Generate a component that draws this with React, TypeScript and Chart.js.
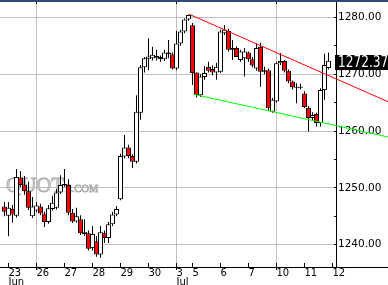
import React, { useEffect, useRef } from 'react';
import { Chart, registerables } from 'chart.js';

Chart.register(...registerables);

// ---- time axis (hourly bars, one slot per bar) ----
const sessionStartSlots = [1, 2, 9, 16, 23, 30, 37, 44, 48, 55, 62, 69, 76];
const sessionBarCounts = [1, 7, 7, 7, 7, 7, 7, 4, 7, 7, 7, 7, 7];
const dayTickSlots = [2, 9, 16, 23, 30, 37, 44, 48, 55, 62, 69, 76, 83];
const dayTickLabels = ['23', '26', '27', '28', '29', '30', '3', '5', '6', '7', '10', '11', '12'];
const monthTickLabels = ['Jun', '', '', '', '', '', 'Jul', '', '', '', '', '', ''];
const weekStartSlots = [9, 44, 69];

// ---- price axis ----
const yTickValues = [1240, 1245, 1250, 1255, 1260, 1265, 1270, 1275, 1280];
const yLabelValues = [1240, 1250, 1260, 1270, 1280];
const yMin = 1236.08;
const yMax = 1282.69;
const xMin = -0.125;
const xMax = 83.875;

// ---- OHLC series ----
const opens = [
  1246.7,
  1245.1, 1246.3, 1245.1, 1251.8, 1250.6, 1249.4, 1245.0,
  1246.0, 1246.7, 1245.5, 1244.0, 1246.3, 1246.5, 1249.2,
  1250.4, 1250.5, 1245.6, 1244.1, 1244.5, 1241.9, 1242.0,
  1239.4, 1240.6, 1238.3, 1242.0, 1241.2, 1243.6, 1245.3,
  1248.0, 1255.5, 1257.1, 1255.6, 1254.6, 1263.2, 1271.2,
  1272.6, 1272.8, 1272.8, 1273.0, 1272.6, 1273.5, 1273.5,
  1271.0, 1275.4, 1277.5, 1279.6,
  1278.6, 1270.3, 1266.3, 1269.5, 1271.3, 1270.9, 1270.3,
  1270.4, 1277.2, 1277.6, 1274.3, 1274.6, 1272.5, 1272.8,
  1273.8, 1272.6, 1271.0, 1274.8, 1270.4, 1270.7, 1263.4,
  1265.2, 1271.9, 1272.3, 1270.6, 1268.7, 1267.7, 1267.6,
  1266.6, 1264.1, 1262.3, 1263.0, 1261.4, 1267.2, 1271.1,
];
const highs = [
  1247.5,
  1247.5, 1247.0, 1253.3, 1252.9, 1252.1, 1251.1, 1248.4,
  1247.5, 1247.2, 1245.8, 1247.0, 1248.6, 1249.8, 1252.2,
  1253.3, 1251.5, 1246.3, 1246.5, 1245.2, 1244.5, 1242.5,
  1243.3, 1241.5, 1243.3, 1242.5, 1244.0, 1245.8, 1246.8,
  1256.0, 1259.3, 1257.6, 1255.9, 1266.3, 1271.6, 1273.0,
  1276.3, 1274.8, 1274.3, 1273.3, 1274.3, 1276.0, 1273.8,
  1277.6, 1277.8, 1279.8, 1280.5,
  1279.0, 1270.3, 1270.0, 1271.4, 1272.2, 1271.5, 1272.0,
  1277.8, 1278.6, 1278.0, 1276.0, 1274.9, 1274.3, 1274.6,
  1274.0, 1273.0, 1275.4, 1275.5, 1271.3, 1271.0, 1265.8,
  1272.2, 1273.7, 1272.5, 1270.8, 1268.9, 1268.4, 1268.3,
  1267.0, 1264.4, 1263.3, 1263.2, 1267.5, 1273.6, 1273.8,
];
const lows = [
  1245.0,
  1241.5, 1243.9, 1244.8, 1250.2, 1248.8, 1246.1, 1244.7,
  1245.7, 1245.2, 1243.1, 1243.7, 1246.0, 1246.2, 1248.9,
  1250.2, 1245.2, 1243.8, 1243.9, 1241.7, 1241.5, 1239.0,
  1239.0, 1237.9, 1237.7, 1240.3, 1240.3, 1243.3, 1245.0,
  1247.8, 1255.2, 1255.2, 1253.5, 1254.3, 1262.0, 1270.3,
  1270.7, 1272.4, 1272.4, 1272.2, 1272.3, 1272.8, 1270.8,
  1270.7, 1275.0, 1277.2, 1279.4,
  1268.1, 1265.9, 1266.0, 1269.0, 1270.3, 1269.8, 1269.0,
  1270.2, 1276.9, 1274.0, 1272.5, 1273.0, 1272.2, 1269.6,
  1272.2, 1271.2, 1270.6, 1267.8, 1270.0, 1263.6, 1263.2,
  1265.0, 1271.6, 1270.3, 1268.4, 1267.3, 1264.9, 1267.3,
  1264.0, 1259.9, 1261.9, 1260.8, 1260.8, 1265.5, 1270.8,
];
const closes = [
  1245.8,
  1246.5, 1245.3, 1251.9, 1250.5, 1249.4, 1246.5, 1246.7,
  1246.9, 1245.5, 1244.0, 1246.4, 1247.4, 1249.2, 1250.5,
  1250.7, 1245.6, 1244.1, 1245.0, 1242.0, 1242.3, 1239.3,
  1241.9, 1238.3, 1242.2, 1241.2, 1243.6, 1245.3, 1246.3,
  1255.6, 1257.1, 1255.6, 1254.6, 1263.4, 1271.2, 1272.8,
  1273.1, 1273.4, 1273.2, 1272.6, 1273.8, 1273.8, 1271.0,
  1275.4, 1277.5, 1279.6, 1280.4,
  1270.2, 1266.3, 1269.6, 1270.2, 1270.6, 1270.3, 1271.3,
  1277.5, 1277.8, 1274.3, 1274.6, 1273.0, 1274.0, 1274.0,
  1272.6, 1271.5, 1274.6, 1270.4, 1270.7, 1264.0, 1265.5,
  1271.9, 1272.3, 1270.6, 1268.7, 1267.7, 1267.6, 1267.7,
  1264.2, 1262.3, 1262.8, 1261.4, 1267.2, 1271.6, 1272.37,
];

// ---- trend lines (slot, price) ----
const resistanceSlots = [47.2, 96.875];
const resistancePrices = [1280.53, 1265.15];
const supportSlots = [48.2, 96.875];
const supportPrices = [1266.46, 1258.94];

const barSlots: number[] = [];
sessionStartSlots.forEach((start, i) => {
  for (let k = 0; k < sessionBarCounts[i]; k++) barSlots.push(start + k);
});

const extrasPlugin = {
  id: 'extras',
  beforeDatasetsDraw(chart: any) {
    const ctx = chart.ctx;
    ctx.save();
    ctx.textBaseline = 'alphabetic';
    ctx.font = '21px "Liberation Serif"';
    ctx.fillStyle = '#d2d2d2';
    ctx.strokeStyle = '#ababab';
    ctx.lineWidth = 0.8;
    ctx.fillText('QUOT', 6, 192);
    ctx.strokeText('QUOT', 6, 192);
    const w = ctx.measureText('QUOT').width;
    ctx.font = '10.5px "Liberation Serif"';
    ctx.fillText('E.COM', 6 + w + 1, 192);
    ctx.strokeText('E.COM', 6 + w + 1, 192);
    ctx.restore();
  },
  afterDraw(chart: any) {
    const ctx = chart.ctx;
    const xs = chart.scales.x;
    const ys = chart.scales.y;
    const area = chart.chartArea;
    ctx.save();
    // top border
    ctx.fillStyle = '#2e4a78';
    ctx.fillRect(0, 0, chart.width, 2);
    ctx.fillStyle = '#000';
    // bottom axis line extended under the price axis
    ctx.fillRect(Math.round(area.right), Math.round(area.bottom), chart.width - Math.round(area.right), 1);
    // x tick marks
    dayTickSlots.forEach((s) => {
      const px = Math.round(xs.getPixelForValue(s) - 0.5);
      const isWeek = weekStartSlots.includes(s);
      ctx.fillRect(px, Math.round(area.bottom) - 4, 1, isWeek ? 7 : 4);
      if (isWeek) ctx.fillRect(px, 2, 1, 2);
    });
    // y tick marks
    yTickValues.forEach((v) => {
      const py = Math.round(ys.getPixelForValue(v) - 0.5);
      ctx.fillRect(Math.round(area.right) - 2, py, 2, 1);
    });
    // last price box
    const last = closes[closes.length - 1];
    const py = ys.getPixelForValue(last);
    const cy = py + 1.8;
    ctx.fillStyle = '#000';
    ctx.fillRect(Math.round(area.right) - 1, Math.round(cy - 7.5), chart.width, 15);
    ctx.translate(Math.round(area.right) + 2, cy);
    ctx.scale(0.76, 1);
    ctx.fillStyle = '#fff';
    ctx.font = '16px "DejaVu Sans"';
    ctx.textBaseline = 'middle';
    ctx.textAlign = 'left';
    ctx.fillText(last.toFixed(2), 0, 0);
    ctx.restore();
  },
};

export default function App() {
  const canvasRef = useRef<HTMLCanvasElement | null>(null);

  useEffect(() => {
    document.body.style.margin = '0';
    const canvas = canvasRef.current;
    if (!canvas) return;

    const bodies = barSlots.map((s, i) => ({
      x: s,
      y: [Math.min(opens[i], closes[i]), Math.max(opens[i], closes[i])],
    }));
    const bodyColors = barSlots.map((_, i) => (closes[i] >= opens[i] ? '#ffffff' : '#ff0000'));
    const wicks = barSlots.map((s, i) => ({ x: s, y: [lows[i], highs[i]] }));
    const resistance = resistanceSlots.map((s, i) => ({ x: s, y: resistancePrices[i] }));
    const support = supportSlots.map((s, i) => ({ x: s, y: supportPrices[i] }));

    const chart = new Chart(canvas, {
      type: 'bar',
      data: {
        datasets: [
          {
            type: 'line',
            label: 'Resistance',
            data: resistance,
            borderColor: '#ff0000',
            borderWidth: 1,
            pointRadius: 0,
            tension: 0,
            clip: false,
            order: 0,
          } as any,
          {
            type: 'line',
            label: 'Support',
            data: support,
            borderColor: '#00ff00',
            borderWidth: 1,
            pointRadius: 0,
            tension: 0,
            clip: false,
            order: 0,
          } as any,
          {
            type: 'bar',
            label: 'Body',
            data: bodies,
            backgroundColor: bodyColors,
            borderColor: '#000000',
            borderWidth: 1,
            borderSkipped: false,
            barThickness: 5,
            grouped: false,
            inflateAmount: 0,
            minBarLength: 1,
            order: 1,
          } as any,
          {
            type: 'bar',
            label: 'Wick',
            data: wicks,
            backgroundColor: '#000000',
            borderWidth: 0,
            barThickness: 1,
            grouped: false,
            inflateAmount: 0,
            order: 2,
          } as any,
        ],
      },
      options: {
        responsive: false,
        animation: false,
        devicePixelRatio: 1,
        events: [],
        layout: { padding: { top: 2, left: 0, right: 0, bottom: 0 } },
        plugins: { legend: { display: false }, tooltip: { enabled: false } },
        scales: {
          x: {
            type: 'linear',
            min: xMin,
            max: xMax,
            offset: false,
            afterBuildTicks: (s: any) => {
              s.ticks = dayTickSlots.map((v) => ({ value: v }));
            },
            afterFit: (s: any) => {
              s.height = 18;
              s.paddingLeft = 0;
              s.paddingRight = 0;
            },
            grid: {
              offset: false,
              drawTicks: false,
              lineWidth: 1,
              color: (c: any) =>
                c.tick && weekStartSlots.includes(c.tick.value) ? '#c0c0c0' : 'rgba(0,0,0,0)',
            },
            border: { display: true, color: '#000000', width: 1 },
            ticks: {
              autoSkip: false,
              maxRotation: 0,
              minRotation: 0,
              align: 'start',
              padding: 2,
              color: '#000000',
              font: { family: 'DejaVu Sans', size: 10, lineHeight: 0.9 },
              callback: (v: any) => {
                const i = dayTickSlots.indexOf(Number(v));
                if (i < 0) return '';
                return monthTickLabels[i] ? [dayTickLabels[i], monthTickLabels[i]] : dayTickLabels[i];
              },
            },
          } as any,
          y: {
            type: 'linear',
            position: 'right',
            min: yMin,
            max: yMax,
            beginAtZero: false,
            afterBuildTicks: (s: any) => {
              s.ticks = yTickValues.map((v) => ({ value: v }));
            },
            afterFit: (s: any) => {
              s.width = 52;
              s.paddingTop = 0;
              s.paddingBottom = 0;
            },
            grid: {
              drawTicks: false,
              lineWidth: 1,
              color: (c: any) =>
                c.tick && yLabelValues.includes(c.tick.value) ? '#c0c0c0' : 'rgba(0,0,0,0)',
            },
            border: { display: true, color: '#000000', width: 1 },
            ticks: {
              padding: 2,
              color: '#000000',
              font: { family: 'DejaVu Sans', size: 10.5 },
              callback: (v: any) => (yLabelValues.includes(Number(v)) ? Number(v).toFixed(2) : ''),
            },
          } as any,
        },
      },
      plugins: [extrasPlugin],
    });

    return () => chart.destroy();
  }, []);

  return (
    <div style={{ position: 'absolute', left: 0, top: 0, width: 388, height: 285, background: '#fff' }}>
      <canvas ref={canvasRef} width={388} height={285} style={{ display: 'block' }} />
    </div>
  );
}
